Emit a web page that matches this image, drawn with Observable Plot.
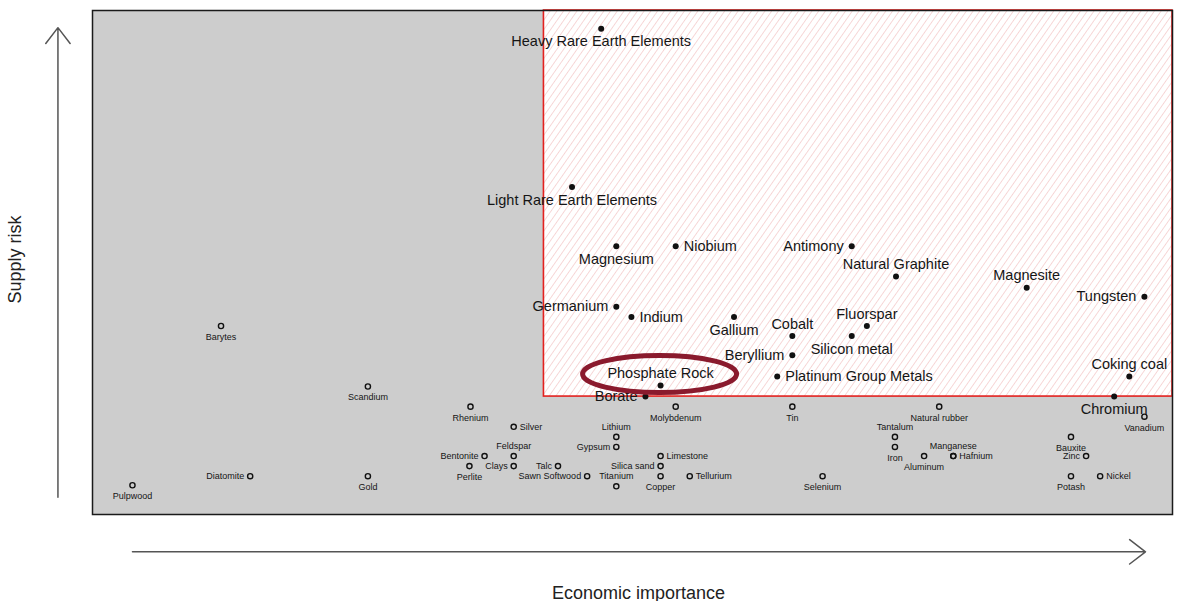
<!DOCTYPE html>
<html>
<head>
<meta charset="utf-8">
<script src="https://cdn.jsdelivr.net/npm/d3@7"></script>
<script src="https://cdn.jsdelivr.net/npm/@observablehq/plot@0.6"></script>
<style>
  html, body { margin: 0; padding: 0; background: #fff; }
  body { width: 1180px; height: 601px; overflow: hidden; font-family: "Liberation Sans", Arial, sans-serif; }
</style>
</head>
<body>
<div id="chart"></div>
<script>
// ---- Data ----
const criticalNames = ["Heavy Rare Earth Elements", "Light Rare Earth Elements", "Magnesium", "Niobium", "Antimony",
  "Natural Graphite", "Magnesite", "Tungsten", "Germanium", "Indium", "Gallium", "Cobalt", "Fluorspar",
  "Silicon metal", "Beryllium", "Platinum Group Metals", "Coking coal", "Phosphate Rock", "Borate", "Chromium"];
const criticalImportance = [4.71, 4.44, 4.85, 5.40, 7.03, 7.44, 8.65, 9.74, 4.85, 4.99, 5.94, 6.48, 7.17,
  7.03, 6.48, 6.34, 9.60, 5.26, 5.12, 9.46];
const criticalRisk = [4.82, 3.25, 2.66, 2.66, 2.66, 2.36, 2.25, 2.16, 2.06, 1.96, 1.96, 1.77, 1.87,
  1.77, 1.58, 1.37, 1.37, 1.28, 1.17, 1.17];
const criticalLabelSide = ["below", "below", "below", "right", "left", "above", "above", "left", "left", "right",
  "below", "above", "above", "below", "left", "right", "above", "above", "left", "below"];

const otherNames = ["Barytes", "Scandium", "Diatomite", "Gold", "Pulpwood", "Rhenium", "Silver", "Lithium",
  "Gypsum", "Feldspar", "Bentonite", "Perlite", "Clays", "Talc", "Sawn Softwood", "Titanium", "Limestone",
  "Silica sand", "Copper", "Tellurium", "Molybdenum", "Tin", "Natural rubber", "Tantalum", "Iron", "Aluminum",
  "Manganese", "Hafnium", "Selenium", "Bauxite", "Zinc", "Potash", "Nickel", "Vanadium"];
const otherImportance = [1.19, 2.55, 1.46, 2.55, 0.37, 3.50, 3.90, 4.85,
  4.85, 3.90, 3.63, 3.49, 3.90, 4.31, 4.58, 4.85, 5.26,
  5.26, 5.26, 5.53, 5.40, 6.48, 7.84, 7.43, 7.43, 7.70,
  7.97, 7.97, 6.76, 9.06, 9.20, 9.06, 9.33, 9.74];
const otherRisk = [1.87, 1.27, 0.38, 0.38, 0.29, 1.07, 0.87, 0.77,
  0.67, 0.58, 0.58, 0.48, 0.48, 0.48, 0.38, 0.28, 0.58,
  0.48, 0.38, 0.38, 1.07, 1.07, 1.07, 0.77, 0.67, 0.58,
  0.58, 0.58, 0.38, 0.77, 0.58, 0.38, 0.38, 0.97];
const otherLabelSide = ["below", "below", "left", "below", "below", "below", "right", "above",
  "left", "above", "left", "below", "left", "left", "left", "above", "right",
  "left", "below", "right", "below", "below", "below", "above", "below", "below",
  "above", "right", "below", "below", "left", "below", "right", "below"];

// criticality thresholds
const thresholdImportance = 4.18;
const thresholdRisk = 1.17;
const highlighted = "Phosphate Rock";

const xLabel = "Economic importance";
const yLabel = "Supply risk";

// ---- Build tables ----
const critical = criticalNames.map((name, i) => ({name, ei: criticalImportance[i], sr: criticalRisk[i], side: criticalLabelSide[i]}));
const others = otherNames.map((name, i) => ({name, ei: otherImportance[i], sr: otherRisk[i], side: otherLabelSide[i]}));

const xDomain = [0, 10];
const yDomain = [0, 5];
const criticalZone = [{x1: thresholdImportance, x2: xDomain[1], y1: thresholdRisk, y2: yDomain[1]}];
// axis arrows drawn in the margins (in scale units)
const axisArrows = [
  {x1: -0.32, y1: 0.17, x2: -0.32, y2: 4.83},
  {x1: 0.37, y1: -0.37, x2: 9.75, y2: -0.37}
];

function labelMarks(data, size, gap, side) {
  const common = {x: "ei", y: "sr", text: "name", fontSize: size, fill: "#151515",
    fontFamily: "'Liberation Sans', Arial, sans-serif"};
  return [
    Plot.text(data.filter(d => d.side === "below"), {...common, dy: gap + 1}),
    Plot.text(data.filter(d => d.side === "above"), {...common, dy: -gap}),
    Plot.text(data.filter(d => d.side === "left"), {...common, dx: -side, textAnchor: "end"}),
    Plot.text(data.filter(d => d.side === "right"), {...common, dx: side, textAnchor: "start"})
  ];
}

const plot = Plot.plot({
  width: 1180,
  height: 601,
  marginLeft: 92,
  marginRight: 8,
  marginTop: 10,
  marginBottom: 87,
  x: {domain: xDomain, axis: null},
  y: {domain: yDomain, axis: null},
  style: {background: "white", fontFamily: "'Liberation Sans', Arial, sans-serif"},
  marks: [
    Plot.frame({fill: "#cdcdcd"}),
    Plot.rect(criticalZone, {x1: "x1", x2: "x2", y1: "y1", y2: "y2", fill: "url(#hatch)", stroke: "#e3211f", strokeWidth: 1.6}),
    Plot.frame({stroke: "#1a1a1a", strokeWidth: 1.5}),
    Plot.dot(others, {x: "ei", y: "sr", r: 2.6, stroke: "#111", strokeWidth: 1.4, fill: "none"}),
    Plot.dot(critical, {x: "ei", y: "sr", r: 3, fill: "#111", stroke: "none"}),
    ...labelMarks(others, 9, 10, 6),
    ...labelMarks(critical, 14.5, 12, 8),
    Plot.arrow(axisArrows, {x1: "x1", y1: "y1", x2: "x2", y2: "y2", stroke: "#555", strokeWidth: 1.5, headLength: 20, headAngle: 75}),
    Plot.text([xLabel], {frameAnchor: "bottom", dx: 6, dy: 84, fontSize: 18, fill: "#222"}),
    Plot.text([yLabel], {frameAnchor: "left", textAnchor: "middle", dx: -77, dy: -3, rotate: -90, fontSize: 18, fill: "#222"})
  ]
});

// hatch pattern for the critical zone
const ns = "http://www.w3.org/2000/svg";
const defs = document.createElementNS(ns, "defs");
defs.innerHTML = '<pattern id="hatch" patternUnits="userSpaceOnUse" width="5.5" height="5.5" patternTransform="rotate(35)">' +
  '<rect width="5.5" height="5.5" fill="#ffffff"/>' +
  '<line x1="0" y1="0" x2="0" y2="5.5" stroke="#f1b9b9" stroke-width="1.1"/></pattern>';
plot.insertBefore(defs, plot.firstChild);

// highlight ellipse around the Phosphate Rock label
const sx = plot.scale("x"), sy = plot.scale("y");
const hp = critical.find(d => d.name === highlighted);
const ell = document.createElementNS(ns, "ellipse");
ell.setAttribute("cx", sx.apply(hp.ei) - 0.5);
ell.setAttribute("cy", sy.apply(hp.sr) - 11);
ell.setAttribute("rx", 77);
ell.setAttribute("ry", 18.5);
ell.setAttribute("fill", "none");
ell.setAttribute("stroke", "#8a1a2d");
ell.setAttribute("stroke-width", 5);
plot.appendChild(ell);

document.getElementById("chart").appendChild(plot);
</script>
</body>
</html>
